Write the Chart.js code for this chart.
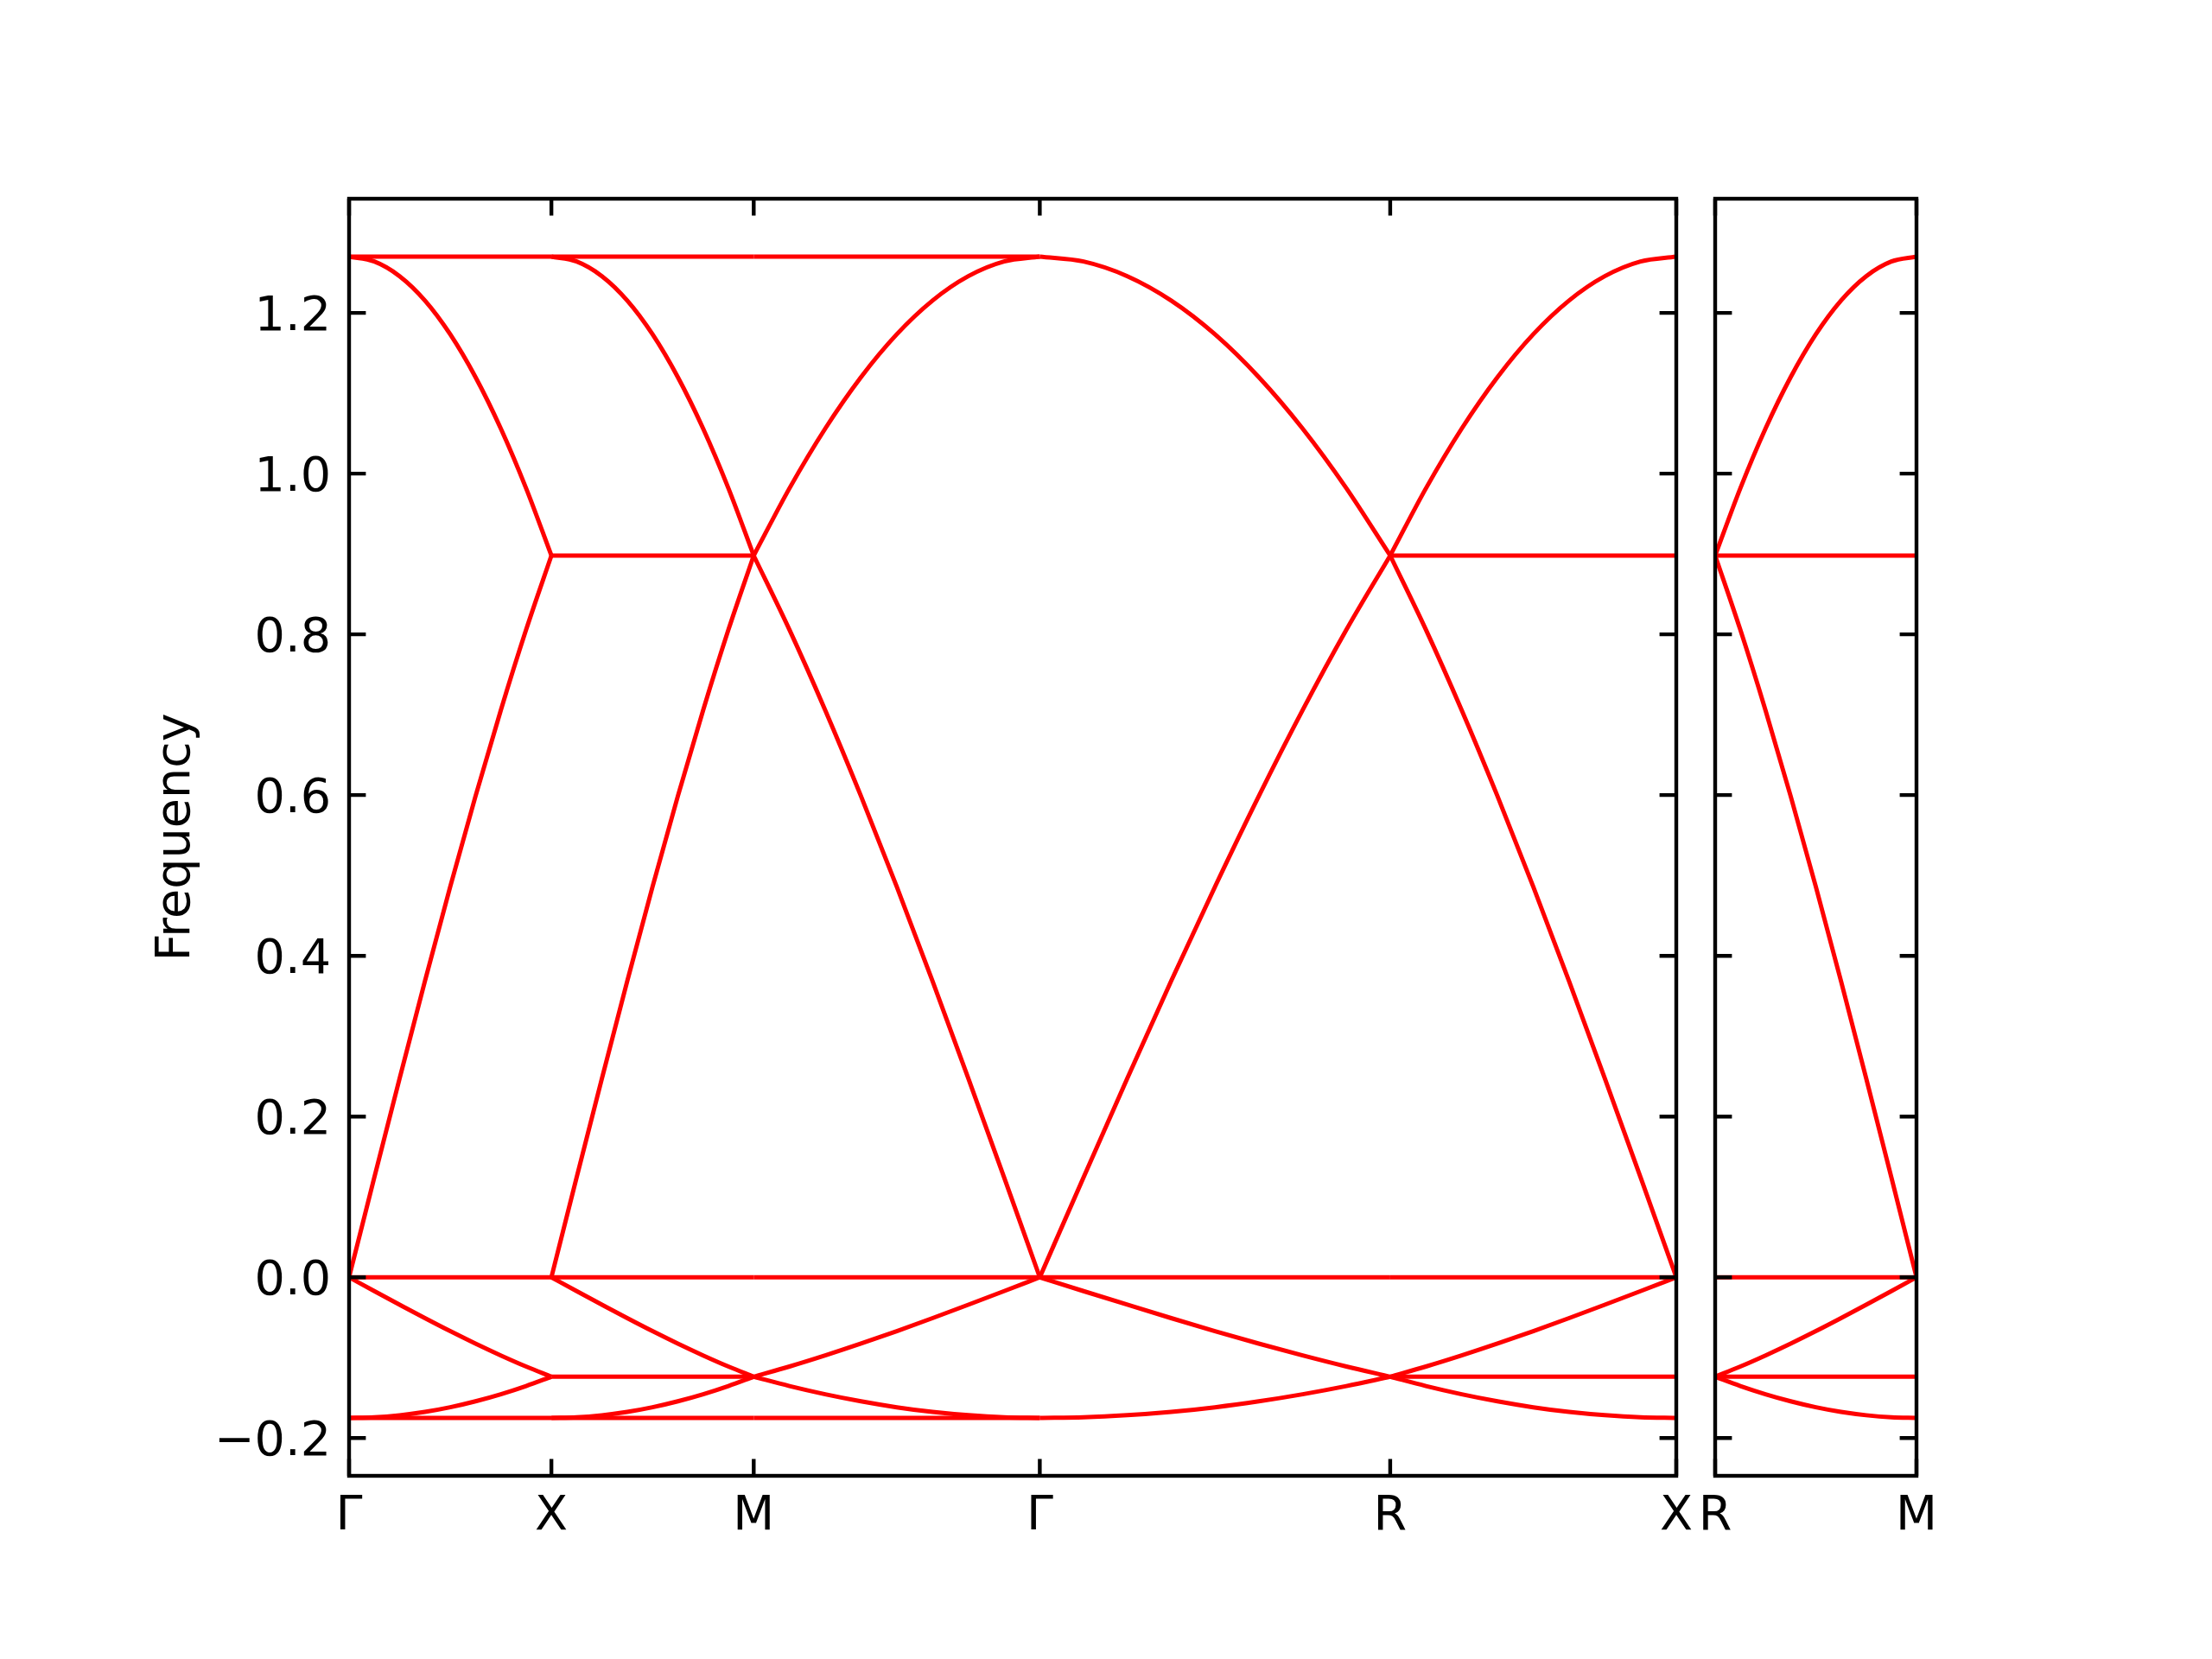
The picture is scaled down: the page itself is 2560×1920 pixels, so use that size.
<!DOCTYPE html>
<html>
<head>
<meta charset="utf-8">
<script src="https://cdn.jsdelivr.net/npm/chart.js@4.4.1/dist/chart.umd.min.js"></script>
<style>
  html, body { margin: 0; padding: 0; background: #fff; }
  #wrap { position: relative; width: 2560px; height: 1920px; }
  canvas { position: absolute; left: 0; top: 0; }
</style>
</head>
<body>
<div id="wrap">
  <canvas id="mainChart" width="2560" height="1920"></canvas>
  <canvas id="sideChart" width="2560" height="1920"></canvas>
</div>
<script>
// high-symmetry path, distances along the path (units of pi/a)
const pathLabels = ["Γ", "X", "M", "Γ", "R", "X"];
const pathDist = [0, 1, 2, 3.414, 5.146, 6.56];
const sideLabels = ["R", "M"];
const sideDist = [0, 1];

const yTicks = [-0.2, 0.0, 0.2, 0.4, 0.6, 0.8, 1.0, 1.2];
const yMin = -0.247;
const yMax = 1.342;

// where the band values were read inside each segment (fraction of segment)
const frac = [0, 0.125, 0.25, 0.375, 0.5, 0.625, 0.75, 0.875, 1];

// band shapes, left end of segment first
const topFall = [1.2700, 1.2639, 1.2456, 1.2153, 1.1733, 1.1200, 1.0560, 0.9817, 0.8980];
const midRise = [0.0000, 0.1245, 0.2478, 0.3687, 0.4860, 0.5987, 0.7056, 0.8057, 0.8980];
const lowFall = [0.0000, -0.0172, -0.0341, -0.0508, -0.0670, -0.0825, -0.0972, -0.1110, -0.1237];
const bottomRise = [-0.1750, -0.1742, -0.1716, -0.1675, -0.1617, -0.1543, -0.1455, -0.1353, -0.1237];

// flat bands
const flatTop = 1.2700;
const flatMid = 0.8980;
const flatZero = 0.0;
const flatLow = -0.1237;
const flatBottom = -0.1750;

const flat = v => frac.map(() => v);
const rev = a => a.slice().reverse();

// bands in each segment of the left panel
const mainBands = [
  // Γ-X
  [flat(flatTop), topFall, midRise, flat(flatZero), lowFall, bottomRise, flat(flatBottom)],
  // X-M
  [flat(flatTop), topFall, flat(flatMid), midRise, flat(flatZero), lowFall, flat(flatLow), bottomRise, flat(flatBottom)],
  // M-Γ
  [flat(flatTop), rev(topFall), rev(midRise), flat(flatZero), rev(lowFall), rev(bottomRise), flat(flatBottom)],
  // Γ-R
  [topFall, midRise, flat(flatZero), lowFall, bottomRise],
  // R-X
  [rev(topFall), flat(flatMid), rev(midRise), flat(flatZero), rev(lowFall), flat(flatLow), rev(bottomRise)],
];
// R-M in the right panel
const sideBands = [
  [rev(topFall), flat(flatMid), rev(midRise), flat(flatZero), rev(lowFall), flat(flatLow), rev(bottomRise)],
];

const tickFont = { family: "DejaVu Sans", size: 55.6 };
const tickLen = 19.4;
const spineWidth = 4.4;

function makeDatasets(dist, bands) {
  const sets = [];
  bands.forEach((list, s) => {
    const x0 = dist[s], x1 = dist[s + 1];
    list.forEach(vals => {
      sets.push({
        data: vals.map((v, i) => ({ x: x0 + frac[i] * (x1 - x0), y: v })),
        borderColor: "#ff0000",
        borderWidth: 5,
        pointRadius: 0,
        cubicInterpolationMode: "monotone",
      });
    });
  });
  return sets;
}

function fmt(v) {
  return (v < 0 ? "\u2212" : "") + Math.abs(v).toFixed(1);
}

// frame + inward ticks on all four sides, like matplotlib
const framePlugin = {
  id: "frame",
  afterDatasetsDraw(chart) {
    const { ctx, chartArea: a, scales } = chart;
    ctx.save();
    ctx.strokeStyle = "#000";
    ctx.lineWidth = spineWidth;
    ctx.beginPath();
    scales.x.ticks.forEach(t => {
      const px = scales.x.getPixelForValue(t.value);
      ctx.moveTo(px, a.bottom); ctx.lineTo(px, a.bottom - tickLen);
      ctx.moveTo(px, a.top); ctx.lineTo(px, a.top + tickLen);
    });
    scales.y.ticks.forEach(t => {
      const py = scales.y.getPixelForValue(t.value);
      ctx.moveTo(a.left, py); ctx.lineTo(a.left + tickLen, py);
      ctx.moveTo(a.right, py); ctx.lineTo(a.right - tickLen, py);
    });
    ctx.stroke();
    ctx.strokeRect(a.left, a.top, a.right - a.left, a.bottom - a.top);
    ctx.restore();
  }
};

function makeChart(id, dist, labels, bands, area, showY) {
  return new Chart(document.getElementById(id), {
    type: "line",
    data: { datasets: makeDatasets(dist, bands) },
    options: {
      responsive: false,
      animation: false,
      devicePixelRatio: 1,
      layout: { padding: { left: 0, top: area.top, right: 2560 - area.right, bottom: 0 } },
      plugins: { legend: { display: false }, tooltip: { enabled: false } },
      scales: {
        x: {
          type: "linear",
          min: dist[0],
          max: dist[dist.length - 1],
          grid: { display: false, drawTicks: false },
          border: { display: false },
          afterBuildTicks: s => { s.ticks = dist.map(v => ({ value: v })); },
          afterFit: s => { s.height = 1920 - area.bottom; },
          ticks: {
            autoSkip: false, maxRotation: 0, minRotation: 0,
            padding: 14, color: "#000", font: tickFont,
            callback: (v, i) => labels[i],
          },
        },
        y: {
          type: "linear",
          min: yMin,
          max: yMax,
          grid: { display: false, drawTicks: false },
          border: { display: false },
          afterBuildTicks: s => { s.ticks = yTicks.map(v => ({ value: v })); },
          afterFit: s => { s.width = area.left; },
          ticks: {
            display: showY, padding: 21, labelOffset: 5,
            color: "#000", font: tickFont,
            callback: v => fmt(v),
          },
          title: {
            display: showY, text: "Frequency", color: "#000", font: tickFont,
            padding: { top: 171, bottom: 0 },
          },
        },
      },
    },
    plugins: [framePlugin],
  });
}

makeChart("mainChart", pathDist, pathLabels, mainBands, { left: 404, top: 230, right: 1940, bottom: 1708 }, true);
makeChart("sideChart", sideDist, sideLabels, sideBands, { left: 1985, top: 230, right: 2218, bottom: 1708 }, false);
</script>
</body>
</html>
